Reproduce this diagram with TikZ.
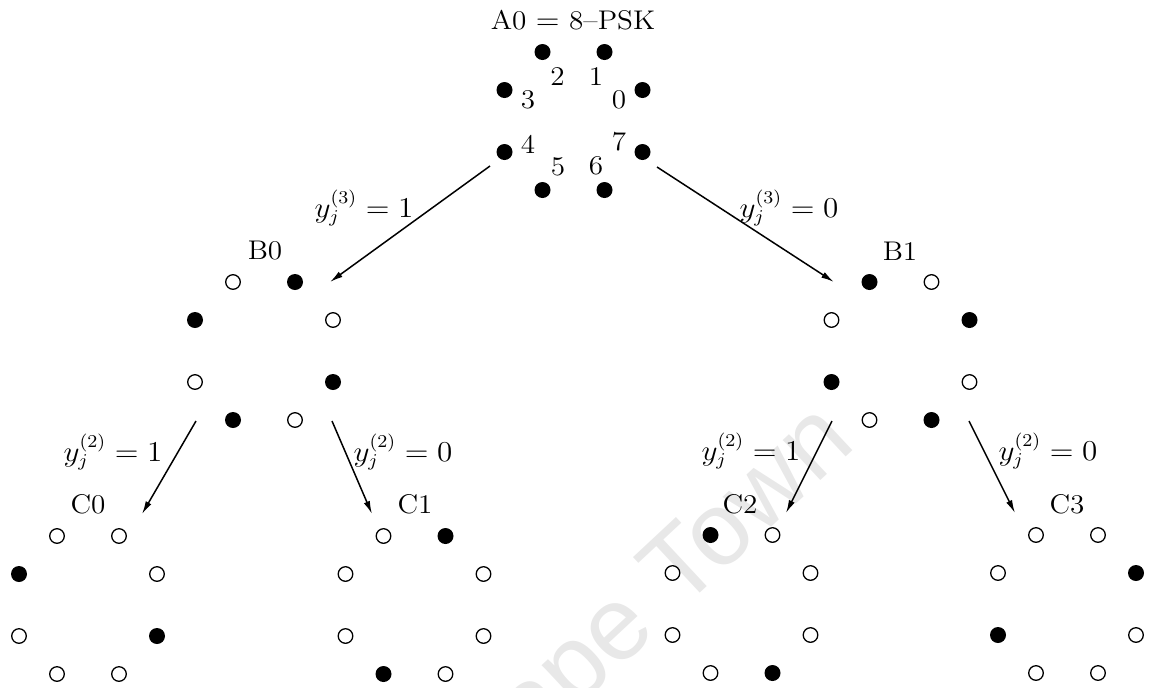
\documentclass[tikz,border=0pt]{standalone}
\usepackage{graphicx}
\usepackage{fontspec}
\newfontfamily\wmfont{Liberation Sans}
\usetikzlibrary{arrows.meta}

% labels are set slightly wide
\newcommand\wt[1]{\scalebox{1.08}[1]{#1}}

% one 8-point constellation: name, centre x, centre y, styles of points 0..7
\newcommand\constel[4]{%
  \begin{scope}[shift={(#2,#3)}]
    \foreach \s [count=\k from 0] in {#4} {
      \pgfmathsetmacro\dx{{69,31,-31,-69,-69,-31,31,69}[\k]}
      \pgfmathsetmacro\dy{{-31,-69,-69,-31,31,69,69,31}[\k]}
      \node[\s] (#1-\k) at (\dx,\dy) {};
    }
  \end{scope}}

\tikzset{
  dotfull/.style={circle, fill=black, inner sep=0pt, minimum size=8pt},
  dotopen/.style={circle, draw=black, fill=white, line width=0.65pt, inner sep=0pt, minimum size=7.3pt},
  lab/.style={inner sep=0pt, font=\fontsize{13.5}{16}\selectfont},
  branch/.style={line width=0.75pt, -{Latex[length=6.5pt,width=3.2pt]}},
}

\begin{document}
\begin{tikzpicture}[x=0.5pt, y=-0.5pt]
  \useasboundingbox (0,0) rectangle (1152,687);

  % watermark
  \node[rotate=43, anchor=base east, text=black!9, font=\wmfont\fontsize{52}{60}\selectfont, inner sep=0pt]
    (wm) at (858,446) {Cape Town};

  % constellations
  \constel{A0}{573.5}{121}{dotfull,dotfull,dotfull,dotfull,dotfull,dotfull,dotfull,dotfull}
  \constel{B0}{264}{351}{dotopen,dotfull,dotopen,dotfull,dotopen,dotfull,dotopen,dotfull}
  \constel{B1}{900.5}{351}{dotfull,dotopen,dotfull,dotopen,dotfull,dotopen,dotfull,dotopen}
  \constel{C0}{88}{605}{dotopen,dotopen,dotopen,dotfull,dotopen,dotopen,dotopen,dotfull}
  \constel{C1}{414.5}{605}{dotopen,dotfull,dotopen,dotopen,dotopen,dotfull,dotopen,dotopen}
  \constel{C2}{741.5}{604}{dotopen,dotopen,dotfull,dotopen,dotopen,dotopen,dotfull,dotopen}
  \constel{C3}{1067}{604}{dotfull,dotopen,dotopen,dotopen,dotfull,dotopen,dotopen,dotopen}

  % point numbers of the 8-PSK set
  \node[lab] (n0) at (619,100) {\wt{0}};
  \node[lab] (n1) at (596,77)  {\wt{1}};
  \node[lab] (n2) at (557.5,77) {\wt{2}};
  \node[lab] (n3) at (528,100) {\wt{3}};
  \node[lab] (n4) at (528,144) {\wt{4}};
  \node[lab] (n5) at (558,167) {\wt{5}};
  \node[lab] (n6) at (596,166) {\wt{6}};
  \node[lab] (n7) at (619,142) {\wt{7}};

  % subset names
  \node[lab] (tA0) at (573,20)  {\wt{A0 $=$ 8--PSK}};
  \node[lab] (tB0) at (265,251) {\wt{B0}};
  \node[lab] (tB1) at (900,251) {\wt{B1}};
  \node[lab] (tC0) at (88,504.5) {\wt{C0}};
  \node[lab] (tC1) at (415,504.5) {\wt{C1}};
  \node[lab] (tC2) at (740,504) {\wt{C2}};
  \node[lab] (tC3) at (1067,504) {\wt{C3}};

  % branch ends
  \coordinate (sA0l) at (490,166);   \coordinate (eB0) at (330,282);
  \coordinate (sA0r) at (657,167);   \coordinate (eB1) at (834,282);
  \coordinate (sB0l) at (196,421);   \coordinate (eC0) at (142,514);
  \coordinate (sB0r) at (332,421);   \coordinate (eC1) at (372,514);
  \coordinate (sB1l) at (832,421);   \coordinate (eC2) at (786,513);
  \coordinate (sB1r) at (969,421);   \coordinate (eC3) at (1015,513);

  \draw[branch] (sA0l) -- (eB0);
  \draw[branch] (sA0r) -- (eB1);
  \draw[branch] (sB0l) -- (eC0);
  \draw[branch] (sB0r) -- (eC1);
  \draw[branch] (sB1l) -- (eC2);
  \draw[branch] (sB1r) -- (eC3);

  % partition bits
  \node[lab] (b3l) at (364,208) {\wt{$y_j^{(3)} = 1$}};
  \node[lab] (b3r) at (789,208) {\wt{$y_j^{(3)} = 0$}};
  \node[lab] (b2a) at (113,452) {\wt{$y_j^{(2)} = 1$}};
  \node[lab] (b2b) at (403,452) {\wt{$y_j^{(2)} = 0$}};
  \node[lab] (b2c) at (751,451) {\wt{$y_j^{(2)} = 1$}};
  \node[lab] (b2d) at (1048,451) {\wt{$y_j^{(2)} = 0$}};
\end{tikzpicture}
\end{document}
